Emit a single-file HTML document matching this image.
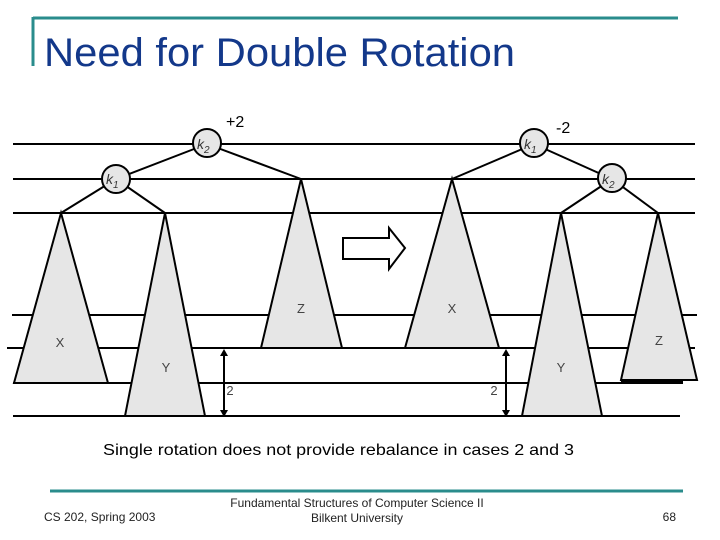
<!DOCTYPE html>
<html><head><style>
html,body{margin:0;padding:0;background:#fff;}
svg{display:block;}
text{font-family:"Liberation Sans",sans-serif;}
</style></head><body>
<svg width="720" height="540" viewBox="0 0 720 540" xmlns="http://www.w3.org/2000/svg">
<!-- title frame -->
<line x1="33" y1="18" x2="678" y2="18" stroke="#2a8c8c" stroke-width="3"/>
<line x1="33" y1="17" x2="33" y2="66" stroke="#2a8c8c" stroke-width="3"/>
<text x="44" y="66" font-size="40" fill="#13388a" textLength="471" lengthAdjust="spacingAndGlyphs">Need for Double Rotation</text>

<!-- horizontal level lines -->
<g stroke="#000" stroke-width="2">
<line x1="13" y1="144" x2="695" y2="144"/>
<line x1="13" y1="179" x2="695" y2="179"/>
<line x1="13" y1="213" x2="695" y2="213"/>
<line x1="12" y1="315" x2="697" y2="315"/>
<line x1="7" y1="348" x2="695" y2="348"/>
<line x1="13" y1="383" x2="683" y2="383"/>
<line x1="13" y1="416" x2="680" y2="416"/>
</g>

<!-- left tree -->
<g stroke="#000" stroke-width="2" fill="#e6e6e6">
<line x1="207" y1="144" x2="116" y2="179"/>
<line x1="207" y1="144" x2="301" y2="179"/>
<line x1="116" y1="179" x2="61" y2="213"/>
<line x1="116" y1="179" x2="165" y2="213"/>
<polygon points="61,213 14,383 108,383"/>
<polygon points="165,213 125,416 205,416"/>
<polygon points="301,179 261,348 342,348"/>
<circle cx="207" cy="143" r="14"/>
<circle cx="116" cy="179" r="14"/>
</g>
<text x="197" y="149" font-size="14" font-style="italic" fill="#333">k<tspan font-size="10" dy="4">2</tspan></text>
<text x="106" y="184" font-size="14" font-style="italic" fill="#333">k<tspan font-size="10" dy="4">1</tspan></text>
<text x="226" y="127" font-size="16" fill="#000">+2</text>

<!-- height arrows -->
<g stroke="#000" stroke-width="2" fill="#000">
<line x1="224" y1="353" x2="224" y2="411"/>
<polygon points="220,356 228,356 224,349" stroke="none"/>
<polygon points="220,410 228,410 224,417" stroke="none"/>
<line x1="506" y1="353" x2="506" y2="411"/>
<polygon points="502,356 510,356 506,349" stroke="none"/>
<polygon points="502,410 510,410 506,417" stroke="none"/>
</g>

<!-- hollow arrow -->
<polygon points="343,238 389,238 389,228 405,248 389,269 389,259 343,259" fill="#fff" stroke="#000" stroke-width="2"/>

<!-- right tree -->
<g stroke="#000" stroke-width="2" fill="#e6e6e6">
<line x1="534" y1="144" x2="452" y2="179"/>
<line x1="534" y1="144" x2="612" y2="179"/>
<line x1="612" y1="179" x2="561" y2="213"/>
<line x1="612" y1="179" x2="658" y2="213"/>
<polygon points="452,179 405,348 499,348"/>
<polygon points="561,213 522,416 602,416"/>
<polygon points="658,213 621,380 697,380"/>
<line x1="621" y1="382" x2="683" y2="382" stroke-width="3"/>
<circle cx="534" cy="143" r="14"/>
<circle cx="612" cy="178" r="14"/>
</g>
<text x="524" y="149" font-size="14" font-style="italic" fill="#333">k<tspan font-size="10" dy="4">1</tspan></text>
<text x="602" y="184" font-size="14" font-style="italic" fill="#333">k<tspan font-size="10" dy="4">2</tspan></text>
<text x="556" y="133" font-size="16" fill="#000">-2</text>

<g font-size="13" fill="#444" text-anchor="middle">
<text x="60" y="347">X</text>
<text x="166" y="372">Y</text>
<text x="301" y="313">Z</text>
<text x="230" y="395">2</text>
<text x="494" y="395">2</text>
<text x="452" y="313">X</text>
<text x="561" y="372">Y</text>
<text x="659" y="345">Z</text>
</g>

<text x="103" y="455" font-size="16" fill="#000" textLength="471" lengthAdjust="spacingAndGlyphs">Single rotation does not provide rebalance in cases 2 and 3</text>

<!-- footer -->
<line x1="50" y1="491" x2="683" y2="491" stroke="#2a8c8c" stroke-width="3"/>
<text x="44" y="521" font-size="12" fill="#222">CS 202, Spring 2003</text>
<text x="357" y="507" font-size="12" fill="#222" text-anchor="middle">Fundamental Structures of Computer Science II</text>
<text x="357" y="522" font-size="12" fill="#222" text-anchor="middle">Bilkent University</text>
<text x="676" y="521" font-size="12" fill="#222" text-anchor="end">68</text>
</svg>
</body></html>
